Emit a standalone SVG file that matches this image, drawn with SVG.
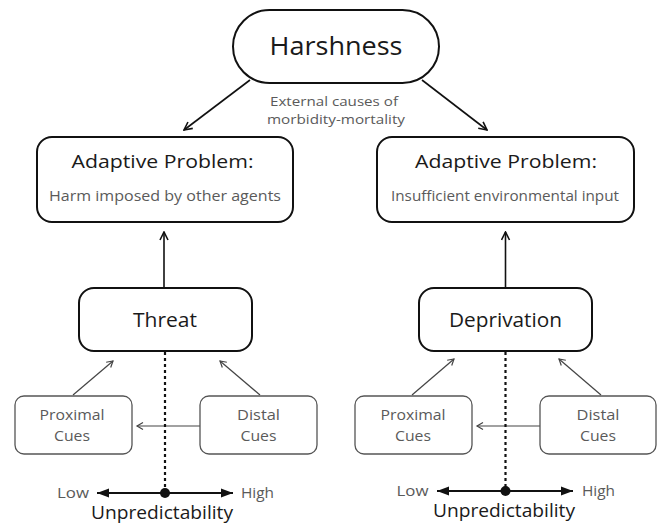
<svg xmlns="http://www.w3.org/2000/svg" width="657" height="525" viewBox="0 0 657 525">
<style>
.main{fill:#fff;stroke:#111;stroke-width:2}
.cue{fill:#fff;stroke:#555;stroke-width:1.3}
.t{font-family:"Open Sans","Liberation Sans",sans-serif;text-anchor:middle;font-weight:400}
.dark{fill:#1a1a1a}
.gray{fill:#5a5a5a}
.conn{stroke:#111;stroke-width:1.6;fill:none}
.thin{stroke:#444;stroke-width:1.2;fill:none}
.dot{stroke:#111;stroke-width:2.2;stroke-dasharray:3 3;fill:none}
.axis{stroke:#111;stroke-width:2.2;fill:none}
</style>
<defs>
<marker id="open" markerWidth="10" markerHeight="10" refX="9" refY="5" orient="auto" markerUnits="userSpaceOnUse">
<path d="M1,1 L9,5 L1,9" fill="none" stroke="#111" stroke-width="1.6"/>
</marker>
<marker id="openThin" markerWidth="10" markerHeight="10" refX="8" refY="5" orient="auto" markerUnits="userSpaceOnUse">
<path d="M2,1.5 L8,5 L2,8.5" fill="none" stroke="#444" stroke-width="1.2"/>
</marker>
<marker id="solid" markerWidth="14" markerHeight="12" refX="12" refY="6" orient="auto" markerUnits="userSpaceOnUse">
<path d="M0,1.5 L12,6 L0,10.5 Z" fill="#111"/>
</marker>
</defs>

<g id="connectors">
<line class="conn" x1="250" y1="80" x2="184" y2="130" marker-end="url(#open)"/>
<line class="conn" x1="422" y1="80" x2="487" y2="130" marker-end="url(#open)"/>
<line class="conn" x1="164" y1="288" x2="164" y2="232" marker-end="url(#open)"/>
<line class="conn" x1="505.5" y1="288" x2="505.5" y2="232" marker-end="url(#open)"/>
<line class="thin" x1="73" y1="395" x2="113" y2="361" marker-end="url(#openThin)"/>
<line class="thin" x1="260" y1="395" x2="220" y2="361" marker-end="url(#openThin)"/>
<line class="thin" x1="200" y1="426" x2="137" y2="426" marker-end="url(#openThin)"/>
<line class="thin" x1="412" y1="395" x2="454" y2="359" marker-end="url(#openThin)"/>
<line class="thin" x1="601" y1="395" x2="559" y2="359" marker-end="url(#openThin)"/>
<line class="thin" x1="540" y1="426" x2="477" y2="426" marker-end="url(#openThin)"/>
<line class="dot" x1="165" y1="352" x2="165" y2="490"/>
<line class="dot" x1="505.5" y1="352" x2="505.5" y2="488"/>
</g>

<g id="harshness">
<rect class="main" x="233" y="10" width="206" height="73" rx="36.5"/>
<text class="t dark" x="336" y="55" font-size="25" textLength="133" lengthAdjust="spacingAndGlyphs">Harshness</text>
<text class="t gray" x="334" y="106" font-size="13.5" textLength="128" lengthAdjust="spacingAndGlyphs">External causes of</text>
<text class="t gray" x="336" y="124" font-size="13.5" textLength="138" lengthAdjust="spacingAndGlyphs">morbidity-mortality</text>
</g>

<g id="adaptive-left">
<rect class="main" x="37" y="137" width="256" height="85" rx="15"/>
<text class="t dark" x="162.5" y="168" font-size="18" textLength="182" lengthAdjust="spacingAndGlyphs">Adaptive Problem:</text>
<text class="t gray" x="165" y="201" font-size="14" textLength="232" lengthAdjust="spacingAndGlyphs">Harm imposed by other agents</text>
</g>

<g id="adaptive-right">
<rect class="main" x="377" y="137" width="257" height="85" rx="15"/>
<text class="t dark" x="506" y="168" font-size="18" textLength="182" lengthAdjust="spacingAndGlyphs">Adaptive Problem:</text>
<text class="t gray" x="505" y="201" font-size="14" textLength="228" lengthAdjust="spacingAndGlyphs">Insufficient environmental input</text>
</g>

<g id="threat">
<rect class="main" x="79" y="288" width="173" height="63" rx="15"/>
<text class="t dark" x="165" y="327" font-size="19.5" textLength="64" lengthAdjust="spacingAndGlyphs">Threat</text>
</g>

<g id="deprivation">
<rect class="main" x="419" y="288" width="173" height="63" rx="15"/>
<text class="t dark" x="505.5" y="327" font-size="19.5" textLength="113" lengthAdjust="spacingAndGlyphs">Deprivation</text>
</g>

<g id="proximal-left">
<rect class="cue" x="15" y="396" width="117" height="58" rx="9"/>
<text class="t gray" x="72" y="420" font-size="14.5" textLength="65" lengthAdjust="spacingAndGlyphs">Proximal</text>
<text class="t gray" x="72" y="441" font-size="14.5" textLength="36" lengthAdjust="spacingAndGlyphs">Cues</text>
</g>

<g id="distal-left">
<rect class="cue" x="200" y="396" width="117" height="58" rx="9"/>
<text class="t gray" x="258.5" y="420" font-size="14.5" textLength="43" lengthAdjust="spacingAndGlyphs">Distal</text>
<text class="t gray" x="258.5" y="441" font-size="14.5" textLength="36" lengthAdjust="spacingAndGlyphs">Cues</text>
</g>

<g id="proximal-right">
<rect class="cue" x="355" y="396" width="117" height="58" rx="9"/>
<text class="t gray" x="413" y="420" font-size="14.5" textLength="65" lengthAdjust="spacingAndGlyphs">Proximal</text>
<text class="t gray" x="413" y="441" font-size="14.5" textLength="36" lengthAdjust="spacingAndGlyphs">Cues</text>
</g>

<g id="distal-right">
<rect class="cue" x="540" y="396" width="116" height="58" rx="9"/>
<text class="t gray" x="598" y="420" font-size="14.5" textLength="43" lengthAdjust="spacingAndGlyphs">Distal</text>
<text class="t gray" x="598" y="441" font-size="14.5" textLength="36" lengthAdjust="spacingAndGlyphs">Cues</text>
</g>

<g id="axis-left">
<line class="axis" x1="165" y1="493" x2="97" y2="493" marker-end="url(#solid)"/>
<line class="axis" x1="165" y1="493" x2="233" y2="493" marker-end="url(#solid)"/>
<circle cx="165" cy="493" r="5" fill="#111"/>
<text class="t gray" x="73" y="498" font-size="14.5" textLength="32" lengthAdjust="spacingAndGlyphs">Low</text>
<text class="t gray" x="257.5" y="498" font-size="14.5" textLength="33" lengthAdjust="spacingAndGlyphs">High</text>
<text class="t dark" x="162" y="518.5" font-size="19" textLength="142" lengthAdjust="spacingAndGlyphs">Unpredictability</text>
</g>

<g id="axis-right">
<line class="axis" x1="505.5" y1="491" x2="437" y2="491" marker-end="url(#solid)"/>
<line class="axis" x1="505.5" y1="491" x2="573" y2="491" marker-end="url(#solid)"/>
<circle cx="505.5" cy="491" r="5" fill="#111"/>
<text class="t gray" x="412.5" y="496" font-size="14.5" textLength="32" lengthAdjust="spacingAndGlyphs">Low</text>
<text class="t gray" x="598.5" y="496" font-size="14.5" textLength="33" lengthAdjust="spacingAndGlyphs">High</text>
<text class="t dark" x="504" y="517" font-size="19" textLength="142" lengthAdjust="spacingAndGlyphs">Unpredictability</text>
</g>
</svg>
